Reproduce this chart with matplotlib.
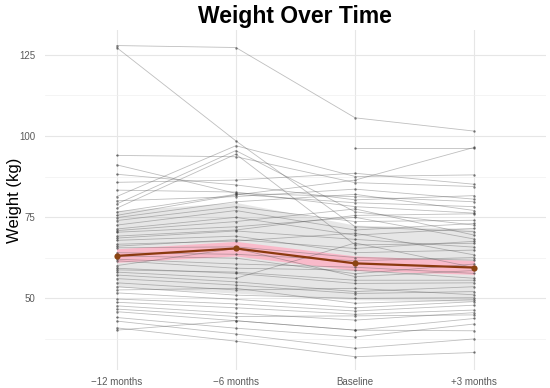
import numpy as np
import matplotlib
matplotlib.use("Agg")
import matplotlib.pyplot as plt

plt.rcParams["font.family"] = ["Liberation Sans", "DejaVu Sans"]

timepoints = ["\u221212 months", "\u22126 months", "Baseline", "+3 months"]

# individual subjects, weight (kg) at each timepoint; nan = missing
w_m12 = [127.9, 127.3, 94.0, 91.1, 88.2, 85.7, 83.3, 81.3, 80.0, 79.0,
         77.7, 76.5, 75.5, 74.8, 73.9, np.nan, 72.5, 71.3, 70.8, 70.3,
         69.1, 68.5, 67.8, 66.6, 66.0, 65.5, 64.0, 63.0, 62.0, 61.5,
         60.0, 59.2, 58.7, 58.0, 57.1, 56.0, 54.7, 53.5, 52.5, 51.6,
         49.7, 48.7, 47.6, 46.6, 45.8, 44.0, 42.9, 40.8, 40.1]
w_m6 = [127.3, 98.5, 93.6, 82.3, 84.9, 86.4, 82.7, 97.0, 81.3, 95.5,
        94.4, 82.0, 81.8, 79.7, 78.2, np.nan, 77.0, 74.9, 73.6, 72.0,
        71.0, 70.7, 69.1, 67.6, 68.0, 65.8, 63.5, 62.3, 60.5, 59.2,
        65.3, 57.6, 58.0, 56.1, 55.0, 54.0, 52.5, 50.9, 53.0, 49.6,
        48.2, 47.0, 45.3, 44.3, 43.0, 40.7, 38.9, 36.7, 43.0]
w_base = [105.6, 72.0, 85.6, 81.3, 80.3, 88.5, 78.2, 87.5, 83.6, 76.6,
          66.4, 79.4, 86.4, 82.0, 73.6, 96.4, 71.0, 69.4, 77.5, 74.9,
          75.5, 68.1, 64.0, 70.0, 65.3, 62.5, 61.5, 57.5, 59.5, 58.6,
          56.6, 54.5, 55.5, 67.0, 52.0, 51.4, 53.0, 49.9, 48.4, 47.0,
          46.0, 45.0, 43.2, 44.5, 40.1, 38.0, 34.5, 31.9, 40.1]
w_p3 = [101.5, 70.5, 84.4, 79.7, 81.6, 85.1, 76.2, 88.0, 80.5, 72.5,
        66.9, 78.2, 96.5, 77.0, 74.0, 96.4, 73.0, 71.5, 69.4, 68.2,
        76.0, 65.7, 64.8, 63.3, 67.5, 61.7, 62.5, 60.5, 57.6, 56.1,
        58.5, 54.7, 55.5, 59.4, 53.5, 52.0, 51.0, 50.1, 49.5, 48.9,
        47.8, 46.3, 45.5, 44.8, 43.7, 42.0, 37.4, 33.2, 39.9]

# group summary
mean_w = [63.0, 65.3, 60.7, 59.4]
sd_low = [53.5, 51.5, 49.5, 49.0]
sd_high = [77.0, 79.5, 72.5, 71.5]
se_low = [61.0, 63.0, 58.5, 57.3]
se_high = [65.2, 67.5, 63.0, 61.6]

x = np.arange(len(timepoints))
subjects = np.array([w_m12, w_m6, w_base, w_p3]).T

fig = plt.figure(figsize=(5.5, 3.88), dpi=100)
ax = fig.add_axes([45 / 550, 1 - 370 / 388, 501 / 550, 340 / 388])

ax.fill_between(x, sd_low, sd_high, color="#9a9a9a", alpha=0.24,
                linewidth=0, zorder=2)
ax.fill_between(x, se_low, se_high, color="#ffb0c4", alpha=0.8,
                linewidth=0, zorder=2.5)

for row in subjects:
    ax.plot(x, row, color="#555555", alpha=0.38, linewidth=0.6, zorder=3)
    ax.scatter(x, row, s=3, color="#333333", alpha=0.6, linewidths=0,
               zorder=3.5)

ax.plot(x, mean_w, color="#8B3A0F", linewidth=1.6, zorder=5)
ax.scatter(x, mean_w, s=20, color="#8B4513", zorder=6, linewidths=0)

ax.set_xlim(-0.6, 3.6)
ax.set_ylim(27.8, 132.7)
ax.set_xticks(x)
ax.set_xticklabels(timepoints)
ax.set_yticks([50, 75, 100, 125])
ax.set_yticks([37.5, 62.5, 87.5, 112.5], minor=True)
ax.tick_params(axis="both", which="both", length=0, labelsize=7,
               labelcolor="#5a5a5a")
ax.tick_params(axis="x", pad=5)
ax.tick_params(axis="y", pad=7)

ax.grid(True, which="major", color="#e6e6e6", linewidth=0.8, zorder=0)
ax.grid(True, which="minor", axis="y", color="#f0f0f0", linewidth=0.5, zorder=0)
ax.set_axisbelow(True)
for s in ax.spines.values():
    s.set_visible(False)

ax.set_ylabel("Weight (kg)", fontsize=12)
ax.yaxis.set_label_coords(-23 / 501, 0.5)
fig.text(295 / 550, 1 - 16 / 388, "Weight Over Time", ha="center",
         va="center", fontsize=16.5, fontweight="bold")

plt.savefig("out.png", dpi=100)
plt.close()
